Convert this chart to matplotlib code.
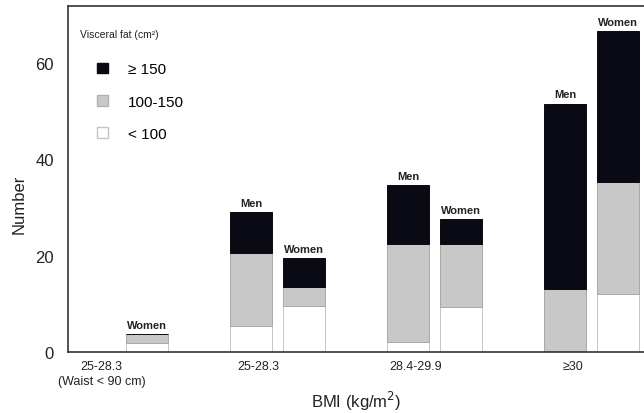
import matplotlib
matplotlib.use("Agg")
import matplotlib.pyplot as plt
import numpy as np
from matplotlib.patches import Patch

plt.rcParams["font.family"] = ["Liberation Sans", "DejaVu Sans"]

GROUPS = ["25-28.3\n(Waist < 90 cm)", "25-28.3", "28.4-29.9", "≥30"]
CLASSES = ["≥ 150", "100-150", "< 100"]

# counts per visceral-fat class, stacked bottom (<100) to top (>=150)
MEN_LOW = [0, 5.5, 2.0, 0.3]
MEN_MID = [0, 15.0, 20.3, 12.8]
MEN_HIGH = [0, 8.5, 12.3, 38.4]
WOMEN_LOW = [1.8, 9.5, 9.4, 12.1]
WOMEN_MID = [1.9, 4.0, 12.9, 23.1]
WOMEN_HIGH = [0, 6.0, 5.2, 31.3]

FILL_HIGH = "#0a0a14"
FILL_MID = "#c8c8c8"
FILL_LOW = "#ffffff"


def stack(ax, xs, low, mid, high, width):
    low = np.array(low)
    mid = np.array(mid)
    high = np.array(high)
    ax.bar(xs, low, width, color=FILL_LOW, edgecolor="#c4c4c4", lw=0.7)
    ax.bar(xs, mid, width, bottom=low, color=FILL_MID, edgecolor="#a8a8a8", lw=0.7)
    ax.bar(xs, high, width, bottom=low + mid, color=FILL_HIGH, edgecolor=FILL_HIGH, lw=0.7)
    return low + mid + high


def main():
    fig = plt.figure(figsize=(6.44, 4.14), dpi=100)
    ax = fig.add_axes([0.1056, 0.147, 0.8944, 0.836])

    x = np.arange(len(GROUPS))
    off = 0.169
    width = 0.267
    men_tot = stack(ax, x - off, MEN_LOW, MEN_MID, MEN_HIGH, width)
    women_tot = stack(ax, x + off, WOMEN_LOW, WOMEN_MID, WOMEN_HIGH, width)

    for xi, t in zip(x - off, men_tot):
        if t > 0:
            ax.annotate("Men", (xi, t), xytext=(0, 3), textcoords="offset points",
                        ha="center", va="bottom", fontsize=8, fontweight="bold",
                        color="#222222")
    for xi, t in zip(x + off, women_tot):
        if t > 0:
            ax.annotate("Women", (xi, t), xytext=(0, 3), textcoords="offset points",
                        ha="center", va="bottom", fontsize=8, fontweight="bold",
                        color="#222222")

    ax.set_xlim(-0.334, 3.334)
    ax.set_ylim(0, 71.7)
    ax.set_yticks([0, 20, 40, 60])
    ax.set_xticks(x - 0.12)
    ax.set_xticklabels(GROUPS, fontsize=9, linespacing=1.3, color="#222222")
    ax.tick_params(axis="y", length=0, pad=10, labelsize=12, colors="#222222")
    ax.tick_params(axis="x", length=0, pad=6)

    ax.spines["right"].set_visible(False)
    for s in ("left", "bottom", "top"):
        ax.spines[s].set_color("#333333")
        ax.spines[s].set_linewidth(1.2)

    ax.set_ylabel("Number", fontsize=12, color="#222222")
    ax.yaxis.set_label_coords(-0.072, 0.43)
    ax.set_xlabel("BMI (kg/m$^2$)", fontsize=12, color="#222222")
    ax.xaxis.set_label_coords(0.5, -0.105)

    ax.text(0.02, 0.92, "Visceral fat (cm²)", transform=ax.transAxes,
            fontsize=7.5, va="center", ha="left", color="#222222")
    handles = [
        Patch(facecolor=FILL_HIGH, edgecolor=FILL_HIGH),
        Patch(facecolor=FILL_MID, edgecolor="#b0b0b0"),
        Patch(facecolor=FILL_LOW, edgecolor="#c4c4c4"),
    ]
    ax.legend(handles, CLASSES, loc="upper left", bbox_to_anchor=(0.04, 0.855),
              frameon=False, fontsize=11, handlelength=0.7, handleheight=0.7,
              handletextpad=1.3, labelspacing=1.2, borderaxespad=0)

    fig.savefig("out.png", dpi=100)
    plt.close(fig)


if __name__ == "__main__":
    main()
